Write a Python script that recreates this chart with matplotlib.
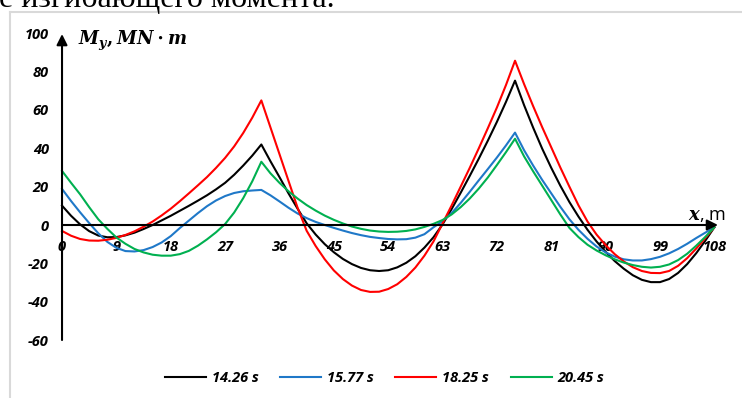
import matplotlib.pyplot as plt
from matplotlib.lines import Line2D

plt.rcParams['mathtext.fontset'] = 'custom'
plt.rcParams['mathtext.it'] = 'DejaVu Serif:italic:bold'
plt.rcParams['mathtext.rm'] = 'DejaVu Serif:bold'
plt.rcParams['mathtext.bf'] = 'DejaVu Serif:bold'

# bending moment along the beam, sampled every 1.5 m (supports at 0, 33, 75, 108)
x_m = [0, 1.5, 3, 4.5, 6, 7.5, 9, 10.5, 12, 13.5, 15, 16.5, 18, 19.5, 21, 22.5,
       24, 25.5, 27, 28.5, 30, 31.5, 33,
       34.5, 36, 37.5, 39, 40.5, 42, 43.5, 45, 46.5, 48, 49.5, 51, 52.5, 54,
       55.5, 57, 58.5, 60, 61.5, 63, 64.5, 66, 67.5, 69, 70.5, 72, 73.5, 75,
       76.5, 78, 79.5, 81, 82.5, 84, 85.5, 87, 88.5, 90, 91.5, 93, 94.5, 96,
       97.5, 99, 100.5, 102, 103.5, 105, 106.5, 108]

m_1426 = [10.1, 4.8, 0.3, -3.2, -5.5, -6.4, -6.3, -5.4, -4.0, -2.1, 0.0, 2.4,
          4.8, 7.4, 10.0, 12.7, 15.5, 18.6, 22.0, 26.2, 31.0, 36.2, 42.0,
          33.3, 25.0, 16.5, 8.5, 0.9, -5.0, -10.0, -14.2, -17.7, -20.4, -22.4,
          -23.6, -24.0, -23.6, -22.1, -19.7, -16.3, -11.8, -6.4, 0.3, 8.3, 16.8,
          25.6, 34.6, 44.0, 53.8, 64.2, 75.3,
          62.5, 50.8, 39.8, 29.8, 20.5, 12.0, 4.4, -2.5, -8.6, -14.0, -18.8,
          -22.8, -26.2, -28.6, -29.8, -29.8, -28.2, -25.0, -20.4, -14.7, -8.2, -1.2]
m_1577 = [18.8, 12.5, 6.6, 1.0, -4.3, -8.8, -11.9, -13.6, -13.8, -13.1, -11.5,
          -9.1, -5.8, -1.6, 2.3, 6.2, 9.8, 12.8, 15.1, 16.7, 17.6, 18.0, 18.3,
          15.5, 12.3, 9.0, 6.0, 3.6, 1.6, 0.0, -1.5, -2.9, -4.2, -5.3, -6.2,
          -6.8, -7.3, -7.5, -7.4, -6.6, -4.8, -1.2, 2.0, 6.2, 11.5, 17.3, 23.3,
          29.2, 35.2, 41.5, 48.2,
          39.0, 31.0, 23.5, 16.5, 9.5, 3.0, -2.5, -7.2, -11.2, -14.3, -16.5,
          -17.9, -18.5, -18.5, -17.8, -16.6, -14.8, -12.5, -9.8, -6.8, -4.0, -1.2]
m_1825 = [-3.1, -5.6, -7.3, -8.1, -8.2, -7.7, -6.7, -5.2, -3.3, -0.9, 1.8, 5.0,
          8.5, 12.4, 16.5, 20.7, 25.0, 29.8, 35.0, 41.0, 48.0, 56.0, 65.0,
          51.0, 37.0, 23.0, 9.0, -3.0, -11.0, -17.9, -23.7, -28.2, -31.6, -33.9,
          -34.9, -34.8, -33.4, -30.9, -27.1, -22.2, -16.0, -8.6, 0.8, 10.2, 20.0,
          29.8, 40.0, 50.5, 61.3, 73.0, 85.7,
          73.5, 62.0, 51.0, 40.5, 30.0, 20.0, 10.3, 1.8, -5.0, -10.5, -15.2,
          -19.0, -22.0, -24.0, -25.0, -25.1, -24.0, -21.3, -17.3, -12.3, -6.8, -1.2]
m_2045 = [28.2, 22.0, 16.0, 9.3, 3.0, -2.0, -6.5, -9.8, -12.5, -14.3, -15.5,
          -16.0, -16.0, -15.2, -13.5, -10.8, -7.5, -3.8, 0.5, 6.5, 14.0, 22.8, 33.0,
          27.0, 22.0, 17.6, 13.8, 10.4, 7.5, 4.9, 2.7, 0.8, -0.8, -2.0, -2.9,
          -3.4, -3.6, -3.5, -3.1, -2.3, -1.0, 0.6, 2.6, 5.5, 9.3, 13.8, 19.0,
          24.8, 31.3, 38.0, 45.0,
          35.8, 28.0, 20.5, 13.0, 5.5, -1.5, -6.3, -10.3, -13.3, -15.8, -17.9,
          -19.6, -20.9, -21.8, -22.2, -21.8, -20.6, -18.3, -15.0, -10.8, -6.2, -1.2]

series = [('14.26 s', m_1426, '#000000'),
          ('15.77 s', m_1577, '#1f78c8'),
          ('18.25 s', m_1825, '#ff0000'),
          ('20.45 s', m_2045, '#00b050')]

x_ticks = [0, 9, 18, 27, 36, 45, 54, 63, 72, 81, 90, 99, 108]
y_ticks = [-60, -40, -20, 0, 20, 40, 60, 80, 100]

tick_font = dict(family='Open Sans', weight='bold', style='italic', size=10.5)

fig = plt.figure(figsize=(7.42, 3.98), dpi=100)
ax = fig.add_axes([0.0673, 0.1216, 0.928, 0.8188])
ax.set_xlim(-2, 112)
ax.set_ylim(-65, 105)

for label, vals, col in series:
    ax.plot(x_m, vals, color=col, lw=1.5, label=label, solid_joinstyle='round')

# axes drawn as arrows
arrow = dict(arrowstyle='-|>', color='k', lw=1.5, shrinkA=0, shrinkB=0,
             mutation_scale=16)
ax.annotate('', xy=(108.6, 0), xytext=(0, 0), arrowprops=arrow)
ax.annotate('', xy=(0, 99.6), xytext=(0, -60), arrowprops=arrow)

for s in ax.spines.values():
    s.set_visible(False)
ax.spines['bottom'].set_position(('data', 0))
ax.spines['left'].set_position(('data', 0))

ax.set_xticks(x_ticks)
ax.set_xticklabels([str(t) for t in x_ticks], fontdict=tick_font)
ax.set_yticks(y_ticks)
ax.set_yticklabels([str(t) for t in y_ticks], fontdict=tick_font)
ax.tick_params(axis='x', length=0, pad=11)
ax.tick_params(axis='y', length=0, pad=9.5)

ax.text(2.6, 96, r'$M_y, MN\cdot m$', fontsize=13, va='center', ha='left')
ax.text(103.6, 2.5, r'$x$, m', fontsize=13, family='Open Sans',
        va='baseline', ha='left')

ax.legend(loc='center', bbox_to_anchor=(384.5 / 742, 1 - 378 / 398),
          bbox_transform=fig.transFigure, ncol=4, frameon=False,
          prop=tick_font, handlelength=2.8, handletextpad=0.4,
          columnspacing=1.5)

# frame around the chart and the line of text above it
fig.add_artist(Line2D([10 / 742, 1], [1 - 12 / 398, 1 - 12 / 398],
                      color='#d9d9d9', lw=1.5))
fig.add_artist(Line2D([10 / 742, 10 / 742], [0, 1 - 12 / 398],
                      color='#d9d9d9', lw=1.5))
fig.text(-1 / 742, 1 - 7 / 398, 'е изгибающего момента.', family='Liberation Serif',
         fontsize=23, va='baseline', ha='left')

fig.savefig('out.png', dpi=100)
